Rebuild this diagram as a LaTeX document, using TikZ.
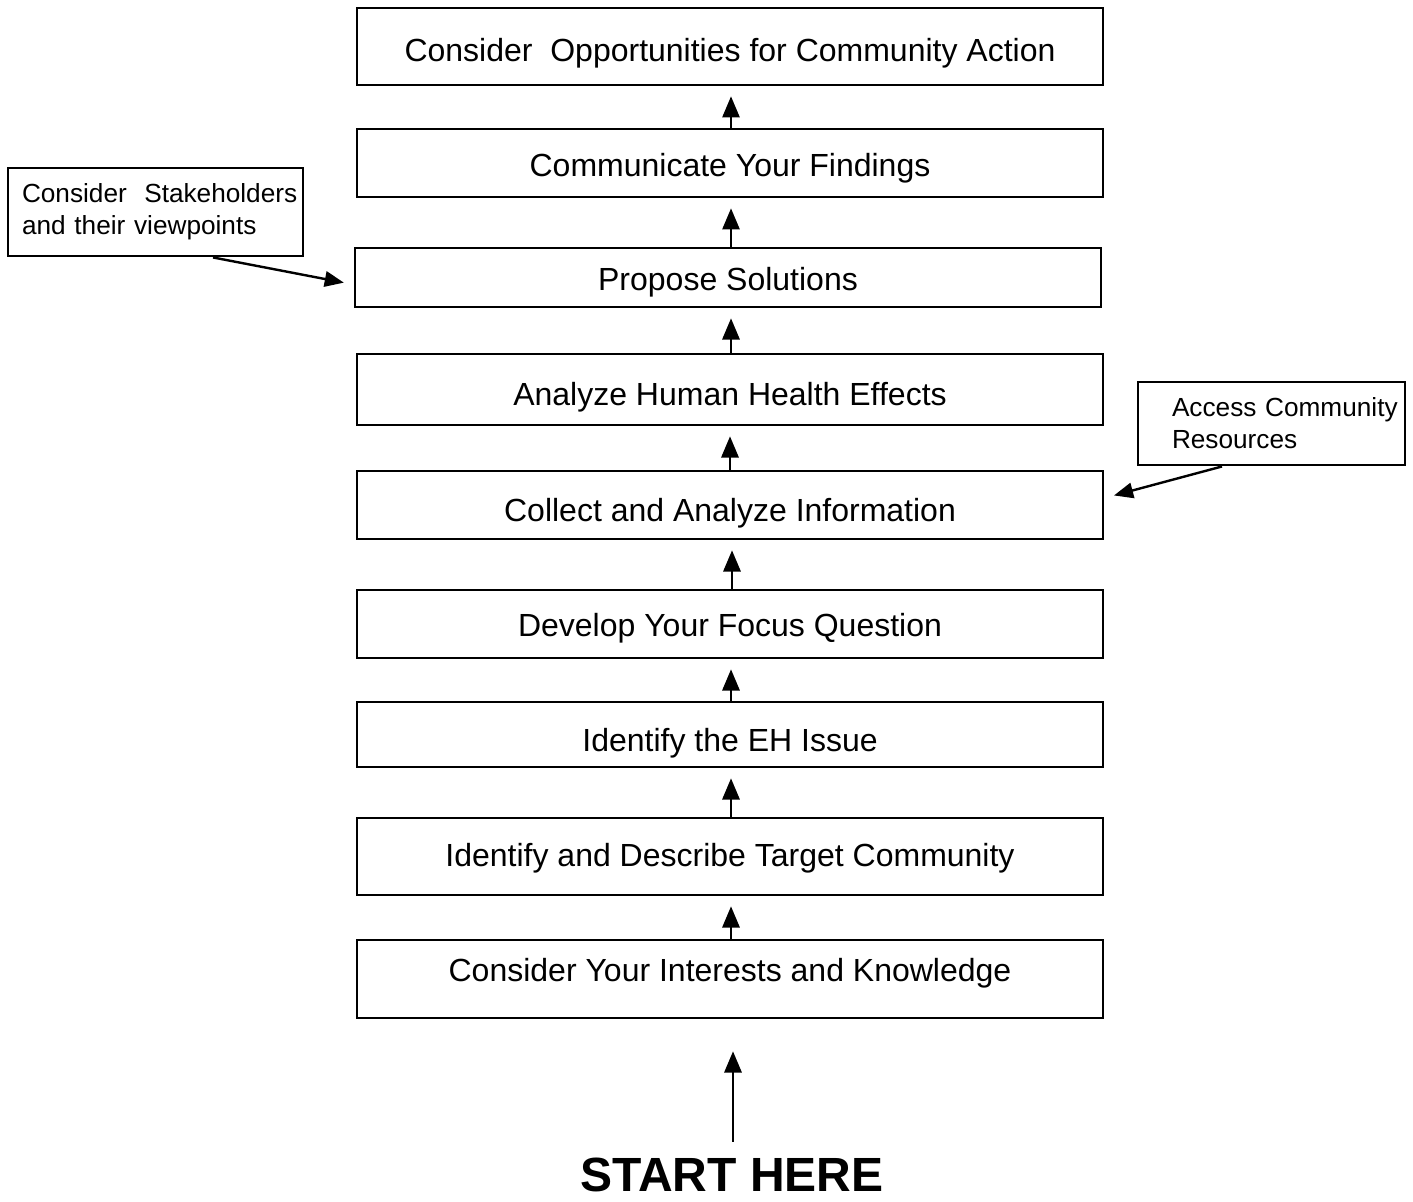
\documentclass[tikz,border=0pt]{standalone}
\usepackage{fontspec}
\setmainfont{Liberation Sans}
\usetikzlibrary{arrows}
\tikzset{>=triangle 45}
\tikzset{
  stepbox/.style={draw, line width=1.45pt, minimum width=373pt, inner sep=0pt, text depth=0pt,
    font=\fontsize{16}{19}\selectfont},
  notebox/.style={draw, line width=1.45pt, inner ysep=0pt, align=left, font=\fontsize{13.1}{16}\selectfont},
  flow/.style={->, line width=1.45pt, shorten >=5pt}
}

\begin{document}
\begin{tikzpicture}[x=0.5pt,y=-0.5pt]
  \useasboundingbox (0,0) rectangle (1413,1201);

  % main steps, top to bottom
  \node[stepbox, minimum height=38.5pt, text height=14.5pt] (action)    at (730,46.5)  {Consider~~Opportunities for Community Action};
  \node[stepbox, minimum height=34pt,   text height=13.5pt] (findings)  at (730,163)   {Communicate Your Findings};
  \node[stepbox, minimum height=29.5pt, text height=13pt]   (propose)   at (728,277.5) {Propose Solutions};
  \node[stepbox, minimum height=35.5pt, text height=16pt]   (health)    at (730,389.5) {Analyze Human Health Effects};
  \node[stepbox, minimum height=34pt,   text height=16.5pt] (collect)   at (730,505)   {Collect and Analyze Information};
  \node[stepbox, minimum height=34pt,   text height=12pt]   (question)  at (730,624)   {Develop Your Focus Question};
  \node[stepbox, minimum height=32.5pt, text height=17pt]   (issue)     at (730,734.5) {Identify the EH Issue};
  \node[stepbox, minimum height=38.5pt, text height=10pt]   (community) at (730,856.5) {Identify and Describe Target Community};
  \node[stepbox, minimum height=39pt,   text height=2.5pt]  (interests) at (730,979)   {Consider Your Interests and Knowledge};

  % side notes
  \node[notebox, inner xsep=7pt, minimum height=44pt, text width=133.5pt] (stake) at (155.5,212)
    {\mbox{Consider~~Stakeholders}\\\mbox{and their viewpoints}};
  \node[notebox, inner xsep=17pt, minimum height=41.5pt, text width=99.5pt] (access) at (1271.5,423.5)
    {\mbox{Access Community}\\\mbox{Resources}};

  \node[font=\fontsize{24}{28}\selectfont\bfseries, inner sep=0pt] (start) at (732,1175) {START HERE};

  % arrows
  \draw[flow] ([xshift=0.5pt]findings.north)  -- ([xshift=0.5pt]action.south);
  \draw[flow] ([xshift=1.5pt]propose.north)   -- ([xshift=0.5pt]findings.south);
  \draw[flow] ([xshift=0.5pt]health.north)    -- ([xshift=1.5pt]propose.south);
  \draw[flow] ([xshift=0pt]collect.north)     -- ([xshift=0pt]health.south);
  \draw[flow] ([xshift=1pt]question.north)    -- ([xshift=1pt]collect.south);
  \draw[flow] ([xshift=0.5pt]issue.north)     -- ([xshift=0.5pt]question.south);
  \draw[flow] ([xshift=0.5pt]community.north) -- ([xshift=0.5pt]issue.south);
  \draw[flow] ([xshift=0.5pt]interests.north) -- ([xshift=0.5pt]community.south);
  \draw[flow, shorten >=16pt, shorten <=8pt] ([xshift=0.5pt]start.north) -- ([xshift=1.5pt]interests.south);

  \draw[flow, line width=1.2pt] ([xshift=28.75pt]stake.south) -- ([yshift=-3.5pt]propose.west);
  \draw[flow, line width=1.2pt] ([xshift=-24.75pt]access.south) -- ([yshift=3.5pt]collect.east);
\end{tikzpicture}
\end{document}
